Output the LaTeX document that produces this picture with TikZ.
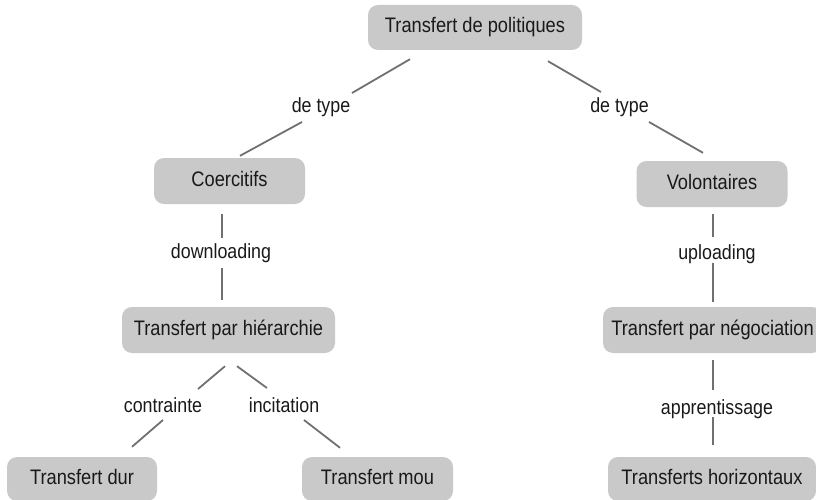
\documentclass[tikz,border=0pt]{standalone}
\usepackage{fontspec}
\setmainfont{Liberation Sans}[FakeStretch=0.87]
\usetikzlibrary{calc}
\definecolor{boxfill}{RGB}{201,201,201}
\definecolor{linkcol}{RGB}{112,112,112}
\definecolor{txt}{RGB}{25,25,25}
\tikzset{
  concept/.style={rectangle, rounded corners=10pt, fill=boxfill, draw=none,
    inner sep=0pt, text=txt, font=\fontsize{21}{25}\selectfont,
    text height=15pt, text depth=4pt, minimum height=46pt},
  linklabel/.style={inner sep=0pt, text=txt, font=\fontsize{20.5}{24}\selectfont, anchor=base},
  link/.style={draw=linkcol, line width=1.8pt}
}
\begin{document}
\begin{tikzpicture}[x=1pt,y=-1pt]
\useasboundingbox (0,0) rectangle (816,500);
% concepts
\node[concept, minimum width=214pt, minimum height=45pt] (top) at (475,27.5) {Transfert de politiques};
\node[concept, minimum width=151pt] (coer) at (229.5,181) {Coercitifs};
\node[concept, minimum width=151pt] (vol) at (712,184) {Volontaires};
\node[concept, minimum width=213pt] (hier) at (228.5,330) {Transfert par hiérarchie};
\node[concept, minimum width=219pt] (nego) at (712.5,330) {Transfert par négociation};
\node[concept, minimum width=150pt, minimum height=44pt] (dur) at (82,479) {Transfert dur};
\node[concept, minimum width=151pt, minimum height=44pt] (mou) at (377.5,479) {Transfert mou};
\node[concept, minimum width=208pt, minimum height=44pt] (horiz) at (712,479) {Transferts horizontaux};
% link labels
\node[linklabel] (l1) at (321,113) {de type};
\node[linklabel] (l2) at (619.5,113) {de type};
\node[linklabel] (l3) at (221,258) {downloading};
\node[linklabel] (l4) at (717,259) {uploading};
\node[linklabel] (l5) at (163,412) {contrainte};
\node[linklabel] (l6) at (284,412) {incitation};
\node[linklabel] (l7) at (717,414) {apprentissage};
% connectors
\draw[link] ($(top.south)+(-65,9)$) -- ($(l1.base)+(31,-20)$);
\draw[link] ($(l1.base)+(-19,9)$) -- ($(coer.north)+(10.5,-2)$);
\draw[link] ($(top.south)+(73,11)$) -- ($(l2.base)+(-18.5,-21)$);
\draw[link] ($(l2.base)+(29.5,9)$) -- ($(vol.north)+(-9,-8)$);
\draw[link] ($(coer.south -| l3.base)+(1,10)$) -- ($(l3.base)+(1,-20)$);
\draw[link] ($(l3.base)+(1,10)$) -- ($(hier.north -| l3.base)+(1,-7)$);
\draw[link] ($(vol.south -| l4.base)+(-4,7)$) -- ($(l4.base)+(-4,-22)$);
\draw[link] ($(l4.base)+(-4,4)$) -- ($(nego.north -| l4.base)+(-4,-5)$);
\draw[link] ($(hier.south)+(-3.5,13)$) -- ($(l5.base)+(35,-23)$);
\draw[link] ($(l5.base)+(0,8)$) -- ($(dur.north)+(50,-10)$);
\draw[link] ($(hier.south)+(8.5,13)$) -- ($(l6.base)+(-17,-24)$);
\draw[link] ($(l6.base)+(20,8)$) -- ($(mou.north)+(-37.5,-9)$);
\draw[link] ($(nego.south -| l7.base)+(-4,7)$) -- ($(l7.base)+(-4,-24)$);
\draw[link] ($(l7.base)+(-4,3)$) -- ($(horiz.north -| l7.base)+(-4,-12)$);
\end{tikzpicture}
\end{document}
